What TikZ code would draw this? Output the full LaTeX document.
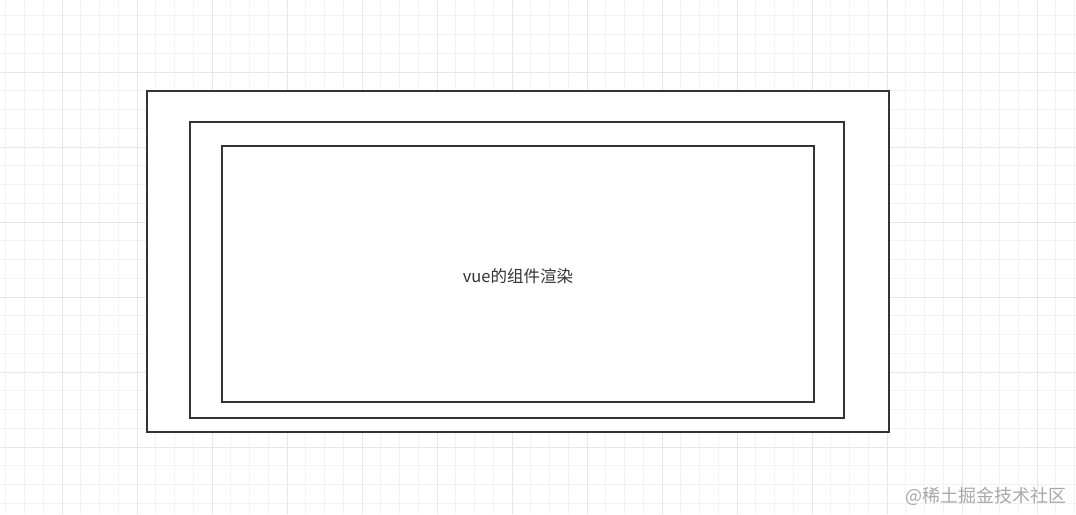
\documentclass[tikz,border=0pt]{standalone}
\usepackage{fontspec}
\usepackage{xcolor}
\usepackage{tikz}
\newfontfamily\cjk{Noto Sans CJK SC}
\definecolor{boxline}{HTML}{333333}
\definecolor{minorgrid}{HTML}{F2F2F2}
\definecolor{majorgrid}{HTML}{E6E6E6}
\definecolor{markgray}{HTML}{A8A8A8}

\begin{document}
\begin{tikzpicture}[x=1pt, y=-1pt,
    layer/.style={draw=boxline, line width=2.6pt},
    minorline/.style={draw=minorgrid, line width=0.8pt},
    majorline/.style={draw=majorgrid, line width=1pt}]
        \useasboundingbox (0,0) rectangle (1076,514);
        \fill[white] (0,0) rectangle (1076,514);

        % background grid
        \foreach \i in {0,...,57} {
            \draw[minorline] (5.75+18.75*\i, 0) -- (5.75+18.75*\i, 514);
        }
        \foreach \i in {0,...,27} {
            \draw[minorline] (0, 15.75+18.75*\i) -- (1076, 15.75+18.75*\i);
        }
        \foreach \i in {0,...,14} {
            \draw[majorline] (62+75*\i, 0) -- (62+75*\i, 514);
        }
        \foreach \i in {0,...,6} {
            \draw[majorline] (0, 72+75*\i) -- (1076, 72+75*\i);
        }

        \coordinate (OuterNW) at (147, 91);
        \coordinate (OuterSE) at (889, 432);
        \coordinate (MiddleNW) at (190, 122);
        \coordinate (MiddleSE) at (844, 418);
        \coordinate (InnerNW) at (222, 146);
        \coordinate (InnerSE) at (814, 402);

        \fill[white] (OuterNW) rectangle (OuterSE);
        \draw[layer] (OuterNW) rectangle (OuterSE);
        \draw[layer] (MiddleNW) rectangle (MiddleSE);
        \draw[layer] (InnerNW) rectangle (InnerSE);

        \node[text=boxline, font=\cjk\fontsize{16.5}{19}\selectfont] (render) at (518, 276) {vue的组件渲染};
        \node[text=markgray, font=\cjk\fontsize{18}{22}\selectfont, anchor=east] (mark) at (1070, 496) {@稀土掘金技术社区};
\end{tikzpicture}
\end{document}
